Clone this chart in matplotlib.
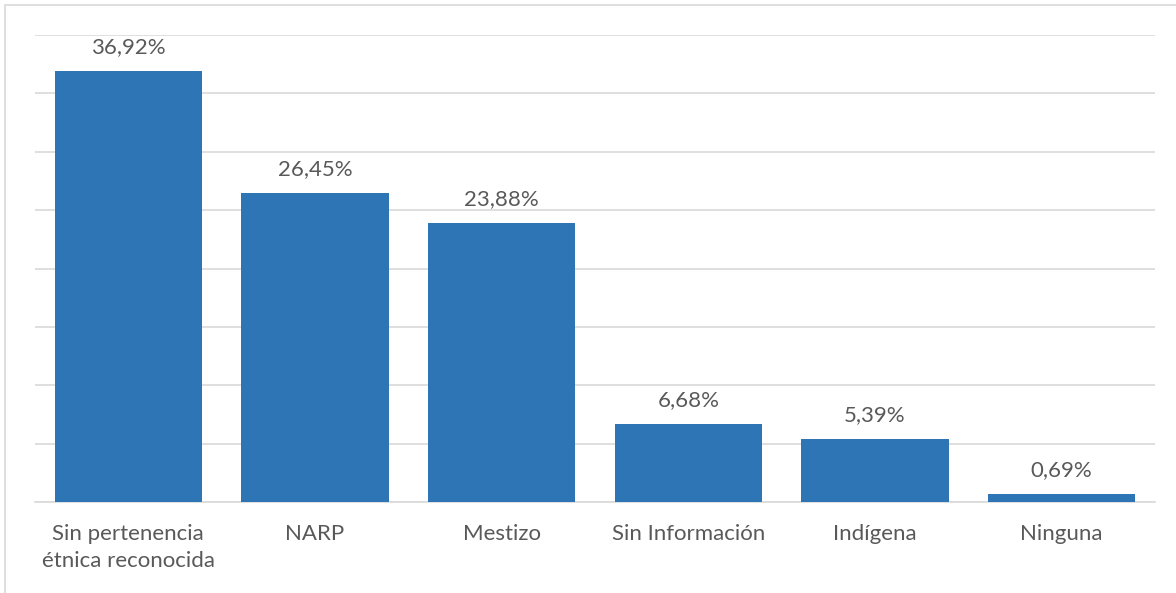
import matplotlib
matplotlib.use("Agg")
from matplotlib import pyplot as plt
from matplotlib.patches import Rectangle

categorias = ["Sin pertenencia\nétnica reconocida", "NARP", "Mestizo",
              "Sin Información", "Indígena", "Ninguna"]
porcentajes = [36.92, 26.45, 23.88, 6.68, 5.39, 0.69]
etiquetas = ["36,92%", "26,45%", "23,88%", "6,68%", "5,39%", "0,69%"]

plt.rcParams['font.family'] = ['Lato', 'DejaVu Sans']

W, H = 1176, 593
fig = plt.figure(figsize=(W / 100, H / 100), dpi=100)
fig.patches.append(Rectangle((5 / W, -0.1), 1.2, 1 - 5 / H + 0.1,
                             transform=fig.transFigure, fill=False,
                             edgecolor="#D9D9D9", linewidth=1.2))

ax = fig.add_axes([35 / W, 1 - 502 / H, 1120 / W, 467 / H])
x = range(len(categorias))
ax.bar(x, porcentajes, width=0.79, color="#2E75B6", zorder=3)

for xi, v, t in zip(x, porcentajes, etiquetas):
    ax.annotate(t, (xi, v), xytext=(0, 10), textcoords="offset points",
                ha="center", va="bottom", fontsize=16, color="#595959")

ax.set_xlim(-0.5, len(categorias) - 0.5)
ax.set_ylim(0, 40)
ax.set_yticks(range(0, 41, 5))
ax.yaxis.grid(True, color="#D9D9D9", linewidth=1.2, zorder=0)
ax.tick_params(axis="y", left=False, labelleft=False)
ax.set_xticks(list(x))
ax.set_xticklabels(categorias, fontsize=16, color="#595959", linespacing=1.4)
ax.tick_params(axis="x", length=0, pad=16)
for s in ["top", "right", "left"]:
    ax.spines[s].set_visible(False)
ax.spines["bottom"].set_color("#D9D9D9")
ax.spines["bottom"].set_linewidth(1.2)

fig.savefig("out.png", dpi=100)
